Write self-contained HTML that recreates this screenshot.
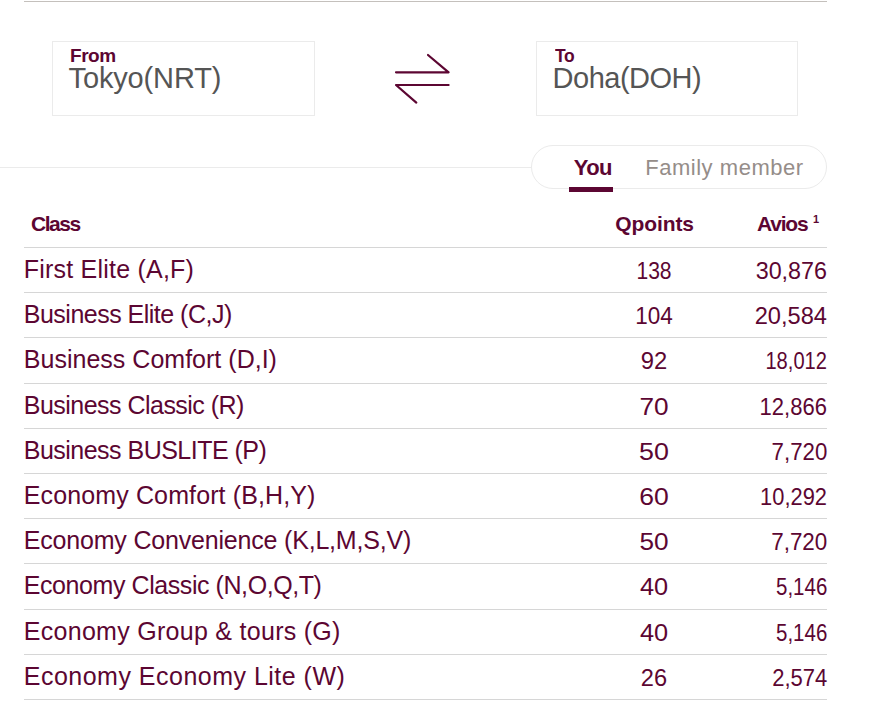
<!DOCTYPE html>
<html><head><meta charset="utf-8">
<style>
html,body{margin:0;padding:0;background:#fff;}
body{width:881px;height:701px;position:relative;overflow:hidden;font-family:"Liberation Sans",sans-serif;color:#5c0632;}
.a{position:absolute;white-space:nowrap;line-height:1;}
.hl{position:absolute;height:1px;}
.box{position:absolute;border:1px solid #ebebeb;box-sizing:border-box;}
.lbl{font-weight:bold;font-size:19px;letter-spacing:-0.5px;}
.city{font-size:29px;color:#555555;letter-spacing:0px;}
.th{font-weight:bold;font-size:21px;letter-spacing:-1.2px;}
.row{font-size:25px;left:23.8px;letter-spacing:0px;transform-origin:0.2px 0;}
.num{font-size:24.5px;}
.q{left:653.5px;transform-origin:50% 0;}
.v{right:54px;transform-origin:100% 0;}
</style></head><body>
<div class="hl" style="left:24px;top:1px;width:803px;background:#c4c0bc"></div>
<div class="box" style="left:52px;top:41px;width:263px;height:75px"></div>
<div class="a lbl" style="left:70.1px;top:46px">From</div>
<div class="a city" style="left:68.6px;top:64.2px;letter-spacing:-0.15px">Tokyo(NRT)</div>
<svg style="position:absolute;left:380px;top:40px" width="80" height="80" viewBox="380 40 80 80">
<g fill="none" stroke="#5c0632" stroke-width="2.2" stroke-linecap="round" stroke-linejoin="round">
<path d="M396 72.3 H448.6 L428 55"/>
<path d="M448.6 85 H396 L416.3 102.6"/>
</g></svg>
<div class="box" style="left:536px;top:41px;width:262px;height:75px"></div>
<div class="a lbl" style="left:554.8px;top:46px;letter-spacing:-0.4px;transform:scaleX(0.92);transform-origin:0 0">To</div>
<div class="a city" style="left:552.6px;top:64.2px;letter-spacing:-0.5px">Doha(DOH)</div>
<div class="hl" style="left:0;top:167px;width:532px;background:#ebebeb"></div>
<div class="box" style="left:531px;top:145px;width:296px;height:44px;border-radius:22px"></div>
<div class="a" style="left:573.7px;top:157px;font-size:22px;font-weight:bold;letter-spacing:-0.55px">You</div>
<div style="position:absolute;left:569px;top:187px;width:44px;height:5px;background:#5c0632"></div>
<div class="a" style="left:645.2px;top:157px;font-size:22px;color:#958d89;letter-spacing:0.53px">Family member</div>
<div class="a th" style="left:31.1px;top:213px;letter-spacing:-1.5px">Class</div>
<div class="a th" style="left:615.3px;top:213px;letter-spacing:-0.1px">Qpoints</div>
<div class="a th" style="left:757px;top:213px;letter-spacing:-1.2px">Avios</div>
<div class="a" style="left:813px;top:214px;font-size:11px;font-weight:bold">1</div>
<div class="hl" style="left:24px;top:247px;width:803px;background:#d6d6d6"></div>
<div class="hl" style="left:24px;top:292px;width:803px;background:#d6d6d6"></div>
<div class="hl" style="left:24px;top:337px;width:803px;background:#d6d6d6"></div>
<div class="hl" style="left:24px;top:383px;width:803px;background:#d6d6d6"></div>
<div class="hl" style="left:24px;top:428px;width:803px;background:#d6d6d6"></div>
<div class="hl" style="left:24px;top:473px;width:803px;background:#d6d6d6"></div>
<div class="hl" style="left:24px;top:518px;width:803px;background:#d6d6d6"></div>
<div class="hl" style="left:24px;top:563px;width:803px;background:#d6d6d6"></div>
<div class="hl" style="left:24px;top:609px;width:803px;background:#d6d6d6"></div>
<div class="hl" style="left:24px;top:654px;width:803px;background:#d6d6d6"></div>
<div class="hl" style="left:24px;top:699px;width:803px;background:#d6d6d6"></div>
<div class="a row" style="top:257px;letter-spacing:0.214px">First Elite (A,F)</div>
<div class="a num q" style="top:258.5px;transform:translateX(-50%) scaleX(0.8605)">138</div>
<div class="a num v" style="top:258.5px;transform:scaleX(0.9507)">30,876</div>
<div class="a row" style="top:302px;letter-spacing:-0.510px">Business Elite (C,J)</div>
<div class="a num q" style="top:303.5px;transform:translateX(-50%) scaleX(0.9184)">104</div>
<div class="a num v" style="top:303.5px;transform:scaleX(0.9644)">20,584</div>
<div class="a row" style="top:347px;letter-spacing:0.015px">Business Comfort (D,I)</div>
<div class="a num q" style="top:348.5px;transform:translateX(-50%) scaleX(0.9720)">92</div>
<div class="a num v" style="top:348.5px;transform:scaleX(0.8208)">18,012</div>
<div class="a row" style="top:393px;letter-spacing:-0.526px">Business Classic (R)</div>
<div class="a num q" style="top:394.5px;transform:translateX(-50%) scaleX(1.0680)">70</div>
<div class="a num v" style="top:394.5px;transform:scaleX(0.8986)">12,866</div>
<div class="a row" style="top:438px;letter-spacing:-0.521px">Business BUSLITE (P)</div>
<div class="a num q" style="top:439.5px;transform:translateX(-50%) scaleX(1.0960)">50</div>
<div class="a num v" style="top:439.5px;transform:scaleX(0.9085)">7,720</div>
<div class="a row" style="top:483px;letter-spacing:0.122px">Economy Comfort (B,H,Y)</div>
<div class="a num q" style="top:484.5px;transform:translateX(-50%) scaleX(1.0840)">60</div>
<div class="a num v" style="top:484.5px;transform:scaleX(0.8917)">10,292</div>
<div class="a row" style="top:528px;letter-spacing:-0.191px">Economy Convenience (K,L,M,S,V)</div>
<div class="a num q" style="top:529.5px;transform:translateX(-50%) scaleX(1.0680)">50</div>
<div class="a num v" style="top:529.5px;transform:scaleX(0.9153)">7,720</div>
<div class="a row" style="top:573px;letter-spacing:-0.429px">Economy Classic (N,O,Q,T)</div>
<div class="a num q" style="top:574.5px;transform:translateX(-50%) scaleX(1.0346)">40</div>
<div class="a num v" style="top:574.5px;transform:scaleX(0.8373)">5,146</div>
<div class="a row" style="top:619px;letter-spacing:0.283px">Economy Group &amp; tours (G)</div>
<div class="a num q" style="top:620.5px;transform:translateX(-50%) scaleX(1.0346)">40</div>
<div class="a num v" style="top:620.5px;transform:scaleX(0.8373)">5,146</div>
<div class="a row" style="top:664px;letter-spacing:0.487px">Economy Economy Lite (W)</div>
<div class="a num q" style="top:665.5px;transform:translateX(-50%) scaleX(0.9640)">26</div>
<div class="a num v" style="top:665.5px;transform:scaleX(0.8983)">2,574</div>
</body></html>
